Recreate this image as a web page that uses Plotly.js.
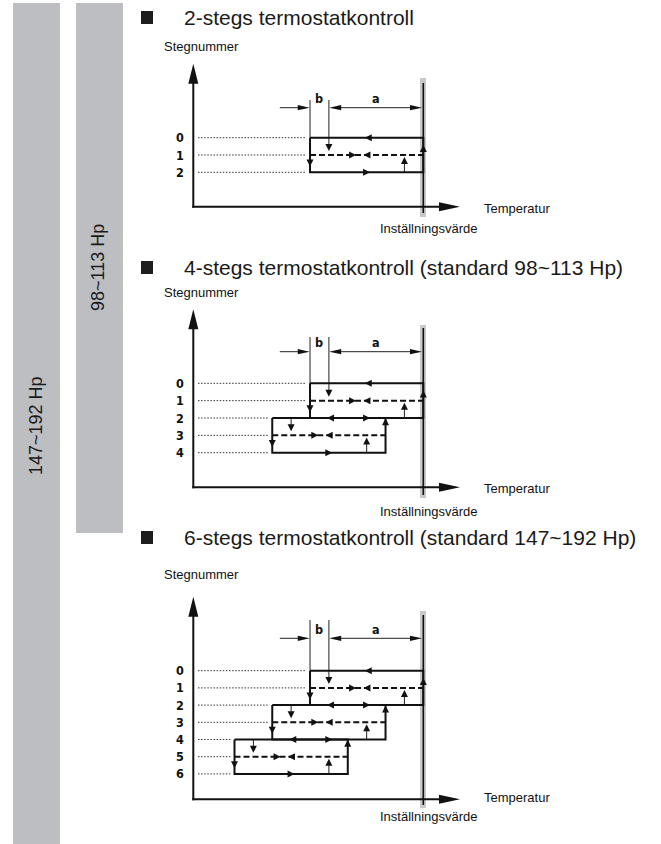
<!DOCTYPE html>
<html><head><meta charset="utf-8">
<script src="https://cdn.plot.ly/plotly-3.0.1.min.js"></script>
<style>html,body{margin:0;padding:0;background:#fff;}#chart{width:661px;height:844px;}</style>
</head><body><div id="chart"></div>
<script>
// ---------------- data ----------------
const panelTitles = [
  '2-stegs termostatkontroll',
  '4-stegs termostatkontroll (standard 98~113 Hp)',
  '6-stegs termostatkontroll (standard 147~192 Hp)'
];
const stepCounts = [2, 4, 6];
const stepLabels = ['0', '1', '2', '3', '4', '5', '6'];
const setpoint = 0;      // Inställningsvärde (temperature units)
const aWidth = 5;        // a
const bWidth = 1;        // b
const dimLabels = ['b', 'a'];
const yAxisLabel = 'Stegnummer';
const xAxisLabel = 'Temperatur';
const setpointLabel = 'Inställningsvärde';
const rangeLabels = ['147~192 Hp', '98~113 Hp'];

// ---------------- layout geometry (pixels) ----------------
const W = 661, H = 844;
const SX = 423.3, UX = 18.88;           // pixel of setpoint, pixels per temperature unit
const AXIS_X = 193.3, AXIS_TIP_X = 460; // axis positions
const panels = [
  {top: 0,   bot: 250, row0: 137.7, sp: 17.3,  xAxisY: 206.7, titleY: 17,  stegY: 47,  dimY: 107.7, vTop: 100, grayTop: 78,  grayBot: 217, lineTop: 83,  lineBot: 213, tempY: 208.3, instY: 228.3},
  {top: 250, bot: 520, row0: 383.3, sp: 17.35, xAxisY: 487.3, titleY: 267, stegY: 293, dimY: 351.7, vTop: 337, grayTop: 325, grayBot: 498, lineTop: 328, lineBot: 495, tempY: 488.3, instY: 511.7},
  {top: 520, bot: 844, row0: 670.7, sp: 17.2,  xAxisY: 799.3, titleY: 537, stegY: 574, dimY: 638.3, vTop: 620, grayTop: 611, grayBot: 808, lineTop: 615, lineBot: 805, tempY: 797,   instY: 816.7}
];

const px = T => SX + T * UX;
const PX = v => v / W;
const PY = v => 1 - v / H;
const stepAt = (p, py) => (py - panels[p].row0) / panels[p].sp;

const INK = '#111111';
const traces = [], shapes = [], annotations = [];
const layout = {
  width: W, height: H, margin: {l: 0, r: 0, t: 0, b: 0, pad: 0},
  paper_bgcolor: '#ffffff', plot_bgcolor: 'rgba(0,0,0,0)', showlegend: false,
  xaxis: {domain: [0, 1], range: [(0 - SX) / UX, (W - SX) / UX], visible: false, fixedrange: true}
};

function tri(tx, ty, dir, len, hw) {
  let pts;
  if (dir === 'r') pts = [[tx, ty], [tx - len, ty - hw], [tx - len, ty + hw]];
  else if (dir === 'l') pts = [[tx, ty], [tx + len, ty - hw], [tx + len, ty + hw]];
  else if (dir === 'u') pts = [[tx, ty], [tx - hw, ty + len], [tx + hw, ty + len]];
  else pts = [[tx, ty], [tx - hw, ty - len], [tx + hw, ty - len]];
  const d = 'M' + pts.map(q => PX(q[0]).toFixed(5) + ',' + PY(q[1]).toFixed(5)).join('L') + 'Z';
  return {type: 'path', xref: 'paper', yref: 'paper', path: d, fillcolor: INK, line: {width: 0}, layer: 'above'};
}

const labelFont = {family: 'Liberation Sans Narrow, Arial Narrow, DejaVu Sans Condensed, sans-serif', size: 12.5, color: INK, weight: 'bold'};
const textFont = {family: 'Liberation Sans, Arial, Helvetica, sans-serif', size: 13, color: INK};

// left range bars
shapes.push({type: 'rect', xref: 'paper', yref: 'paper', x0: PX(13), x1: PX(60), y0: PY(844), y1: PY(3), fillcolor: '#bdbec2', line: {width: 0}, layer: 'below'});
shapes.push({type: 'rect', xref: 'paper', yref: 'paper', x0: PX(76), x1: PX(123), y0: PY(533), y1: PY(3), fillcolor: '#bdbec2', line: {width: 0}, layer: 'below'});
annotations.push({xref: 'paper', yref: 'paper', x: PX(36), y: PY(426), text: rangeLabels[0], textangle: -90, showarrow: false, xanchor: 'center', yanchor: 'middle', font: {family: 'Liberation Sans, Arial, sans-serif', size: 18, color: '#1a1a1a'}});
annotations.push({xref: 'paper', yref: 'paper', x: PX(98), y: PY(268), text: rangeLabels[1], textangle: -90, showarrow: false, xanchor: 'center', yanchor: 'middle', font: {family: 'Liberation Sans, Arial, sans-serif', size: 18, color: '#1a1a1a'}});

panels.forEach((g, p) => {
  const ya = p === 0 ? 'y' : 'y' + (p + 1);
  const yk = p === 0 ? 'yaxis' : 'yaxis' + (p + 1);
  layout[yk] = {domain: [PY(g.bot), PY(g.top)], range: [stepAt(p, g.bot), stepAt(p, g.top)], anchor: 'x', visible: false, fixedrange: true};
  const n = stepCounts[p], nR = n / 2;

  // title + square
  shapes.push({type: 'rect', xref: 'paper', yref: 'paper', x0: PX(141), x1: PX(153), y0: PY(g.titleY + 7), y1: PY(g.titleY - 6), fillcolor: '#1e1e1e', line: {width: 0}});
  annotations.push({xref: 'paper', yref: 'paper', x: PX(182), y: PY(g.titleY), text: panelTitles[p], showarrow: false, xanchor: 'left', yanchor: 'middle', font: {family: 'Liberation Sans, Arial, Helvetica, sans-serif', size: 21, color: '#1a1a1a'}});
  annotations.push({xref: 'paper', yref: 'paper', x: PX(162), y: PY(g.stegY), text: yAxisLabel, showarrow: false, xanchor: 'left', yanchor: 'middle', font: textFont});
  annotations.push({xref: 'paper', yref: 'paper', x: PX(482), y: PY(g.tempY), text: xAxisLabel, showarrow: false, xanchor: 'left', yanchor: 'middle', font: textFont});
  annotations.push({xref: 'paper', yref: 'paper', x: PX(px(setpoint) + 5.5), y: PY(g.instY), text: setpointLabel, showarrow: false, xanchor: 'center', yanchor: 'middle', font: textFont});

  // setpoint band
  shapes.push({type: 'rect', xref: 'paper', yref: 'paper', x0: PX(px(setpoint) - 3.3), x1: PX(px(setpoint) + 2.7), y0: PY(g.grayBot), y1: PY(g.grayTop), fillcolor: '#c9c9c9', line: {width: 0}, layer: 'below'});

  // axes
  const yTip = g.row0 - 74;
  shapes.push({type: 'line', xref: 'paper', yref: 'paper', x0: PX(AXIS_X), x1: PX(AXIS_X), y0: PY(g.xAxisY + 1), y1: PY(yTip + 10), line: {color: INK, width: 2}});
  shapes.push({type: 'line', xref: 'paper', yref: 'paper', x0: PX(AXIS_X - 1), x1: PX(AXIS_TIP_X - 10), y0: PY(g.xAxisY), y1: PY(g.xAxisY), line: {color: INK, width: 2}});
  shapes.push(tri(AXIS_X, yTip, 'u', 20, 5));
  shapes.push(tri(AXIS_TIP_X, g.xAxisY, 'r', 21, 4.5));

  // row labels + dotted guides
  const dotX = [], dotY = [];
  for (let r = 0; r <= n; r++) {
    annotations.push({xref: 'paper', yref: ya, x: PX(180), y: r, text: stepLabels[r], showarrow: false, xanchor: 'center', yanchor: 'middle', font: labelFont});
    const k = Math.min(Math.floor(r / 2), nR - 1);
    const L = setpoint - 2 * bWidth * k - aWidth - bWidth;
    dotX.push((198 - SX) / UX, L - 0.22, null); dotY.push(r, r, null);
  }
  traces.push({x: dotX, y: dotY, yaxis: ya, mode: 'lines', line: {color: '#333', width: 1, dash: '1.5px,1.6px'}, hoverinfo: 'skip'});

  // setpoint line
  traces.push({x: [setpoint, setpoint], y: [stepAt(p, g.lineTop), stepAt(p, g.lineBot)], yaxis: ya, mode: 'lines', line: {color: INK, width: 1.6}, hoverinfo: 'skip'});

  // hysteresis rectangles
  const sx = [], sy = [], dx = [], dy = [], tx = [], ty = [], ax = [], ay = [], asym = [];
  for (let k = 0; k < nR; k++) {
    const R = setpoint - 2 * bWidth * k, L = R - aWidth - bWidth, mid = (L + R) / 2;
    const t = 2 * k, m = 2 * k + 1, b = 2 * k + 2;
    sx.push(L, R, R, L, L, null); sy.push(t, t, b, b, t, null);
    dx.push(L, R, null); dy.push(m, m, null);
    const vStart = k === 0 ? stepAt(p, g.vTop) : t;
    tx.push(L + bWidth, L + bWidth, null); ty.push(vStart, m - 0.35, null);
    tx.push(R - bWidth, R - bWidth, null); ty.push(b, m + 0.25, null);
    ax.push(mid - 0.1);            ay.push(t);         asym.push('arrow-left');
    ax.push(mid + 0.18);           ay.push(b);         asym.push('arrow-right');
    ax.push(L + 2.44 * bWidth);    ay.push(m);         asym.push('arrow-right');
    ax.push(mid - 0.17);           ay.push(m);         asym.push('arrow-left');
    ax.push(L);                    ay.push(b - 0.33);  asym.push('arrow-down');
    ax.push(R);                    ay.push(t + (k === 0 ? 0.42 : 0.02)); asym.push('arrow-up');
    ax.push(L + bWidth);           ay.push(m - 0.23);  asym.push('arrow-down');
    ax.push(R - bWidth);           ay.push(m + 0.12);  asym.push('arrow-up');
  }
  // dimension line (a, b)
  const L0 = setpoint - aWidth - bWidth;
  const dimS = stepAt(p, g.dimY);
  tx.push(L0, L0, null); ty.push(stepAt(p, g.vTop), 0, null);
  tx.push(L0 - 1.6 * bWidth, L0 - 0.3, null); ty.push(dimS, dimS, null);
  tx.push(L0 + bWidth + 0.3, setpoint - 0.3, null); ty.push(dimS, dimS, null);
  shapes.push(tri(px(L0) - 0.3, g.dimY, 'r', 12, 2.6));
  shapes.push(tri(px(L0 + bWidth) + 0.3, g.dimY, 'l', 12, 2.6));
  shapes.push(tri(px(setpoint) - 1.3, g.dimY, 'r', 12, 2.6));
  annotations.push({xref: 'x', yref: ya, x: L0 + bWidth / 2, y: stepAt(p, g.dimY - 9), text: dimLabels[0], showarrow: false, xanchor: 'center', yanchor: 'middle', font: labelFont});
  annotations.push({xref: 'x', yref: ya, x: L0 + bWidth + aWidth / 2, y: stepAt(p, g.dimY - 9), text: dimLabels[1], showarrow: false, xanchor: 'center', yanchor: 'middle', font: labelFont});

  traces.push({x: tx, y: ty, yaxis: ya, mode: 'lines', line: {color: '#222', width: 1}, hoverinfo: 'skip'});
  traces.push({x: dx, y: dy, yaxis: ya, mode: 'lines', line: {color: INK, width: 2, dash: '6px,3px'}, hoverinfo: 'skip'});
  traces.push({x: sx, y: sy, yaxis: ya, mode: 'lines', line: {color: INK, width: 2}, hoverinfo: 'skip'});
  traces.push({x: ax, y: ay, yaxis: ya, mode: 'markers', marker: {symbol: asym, size: 7, color: INK, line: {width: 0}}, hoverinfo: 'skip'});
});

layout.shapes = shapes;
layout.annotations = annotations;
Plotly.newPlot('chart', traces, layout, {staticPlot: true, displayModeBar: false});
</script></body></html>
